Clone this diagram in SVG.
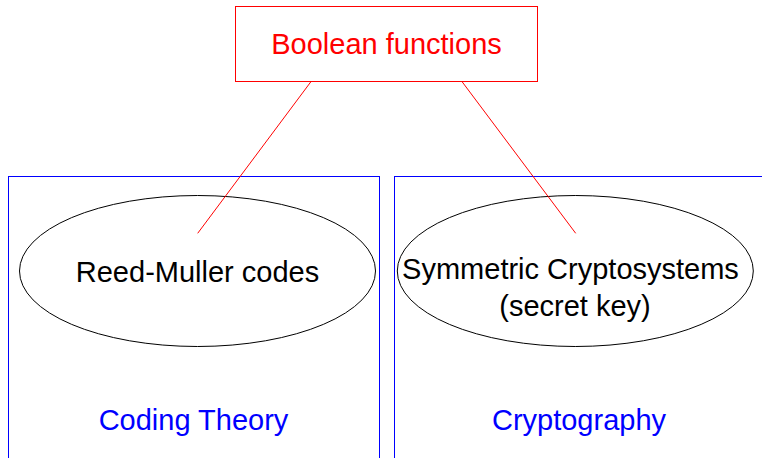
<svg xmlns="http://www.w3.org/2000/svg" width="762" height="458" viewBox="0 0 762 458">
<style>
text{font-family:"Liberation Sans",Arial,sans-serif;font-size:29px;text-anchor:middle}
.area{fill:none;stroke:#0000ff;stroke-width:1}
.area-label{fill:#0000ff}
.topic{fill:none;stroke:#000;stroke-width:1}
.root{fill:#fff;stroke:#ff0000;stroke-width:1}
.conn{stroke:#ff0000;stroke-width:1;fill:none}
</style>
<rect width="762" height="458" fill="#fff"/>
<g id="coding-theory">
<rect class="area" x="8.5" y="176.5" width="371" height="300"/>
<text class="area-label" x="193.5" y="430">Coding Theory</text>
</g>
<g id="cryptography">
<rect class="area" x="394.5" y="176.5" width="400" height="300"/>
<text class="area-label" x="579" y="430">Cryptography</text>
</g>
<g id="reed-muller">
<ellipse class="topic" cx="197.5" cy="271" rx="178" ry="75.5"/>
<text x="197.5" y="282">Reed-Muller codes</text>
</g>
<g id="symmetric">
<ellipse class="topic" cx="575.3" cy="271" rx="178" ry="75.5"/>
<text x="570.5" y="279">Symmetric Cryptosystems</text>
<text x="575" y="316">(secret key)</text>
</g>
<g id="connectors">
<line class="conn" x1="310.7" y1="82" x2="197.7" y2="233.3"/>
<line class="conn" x1="462.3" y1="82" x2="575.7" y2="233.3"/>
</g>
<g id="boolean-functions">
<rect class="root" x="235.5" y="6.5" width="302" height="75"/>
<text x="386.5" y="54.3" fill="#ff0000">Boolean functions</text>
</g>
</svg>
